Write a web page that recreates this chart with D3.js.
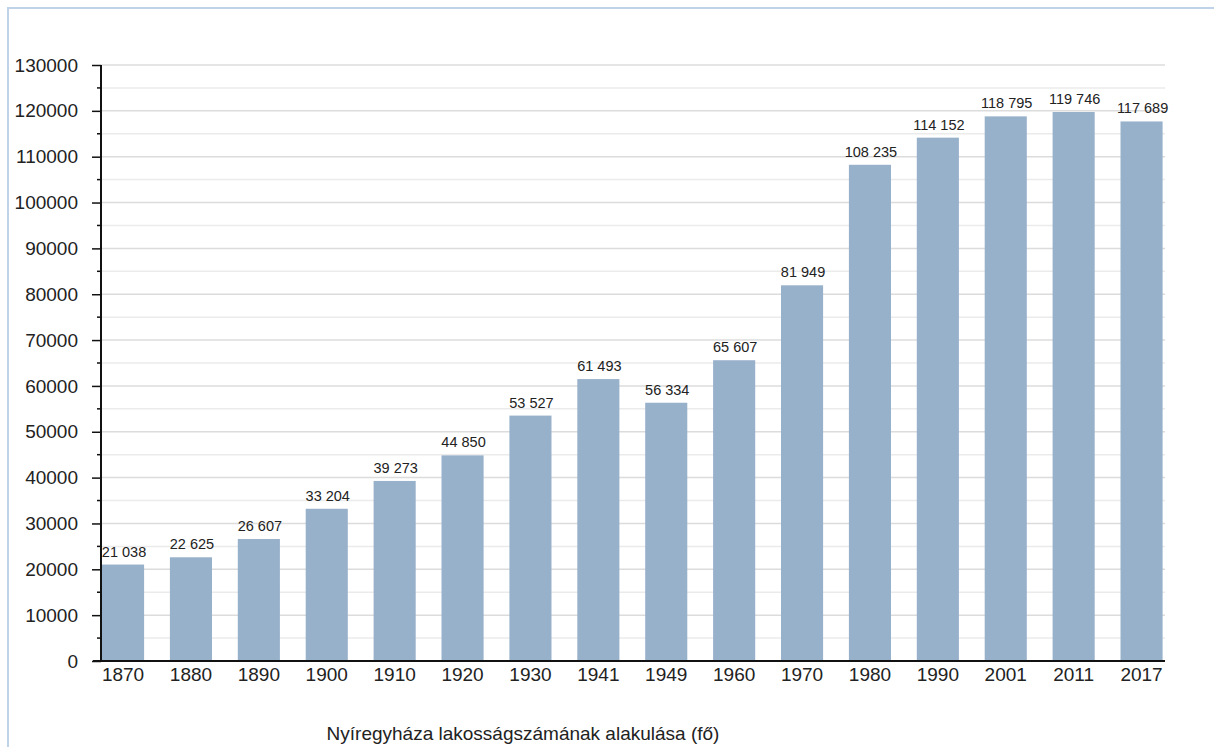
<!DOCTYPE html>
<html>
<head>
<meta charset="utf-8">
<script src="https://cdn.jsdelivr.net/npm/d3@7"></script>
<style>
  body { margin: 0; background: #fff; }
  svg { display: block; font-family: "Liberation Sans", Arial, sans-serif; }
</style>
</head>
<body>
<svg id="chart"></svg>
<script>
var years = ['1870','1880','1890','1900','1910','1920','1930','1941','1949','1960','1970','1980','1990','2001','2011','2017'];
var population = [21038, 22625, 26607, 33204, 39273, 44850, 53527, 61493, 56334, 65607, 81949, 108235, 114152, 118795, 119746, 117689];
var yTicks = [0, 10000, 20000, 30000, 40000, 50000, 60000, 70000, 80000, 90000, 100000, 110000, 120000, 130000];
var title = 'Nyíregyháza lakosságszámának alakulása (fő)';

var W = 1214, H = 747,
    plotL = 101, plotR = 1165, plotT = 65, plotB = 661,
    step = 67.9, pad = 0.38;

var svg = d3.select('#chart').attr('width', W).attr('height', H);

// frame
svg.append('path')
  .attr('d', 'M8,' + H + 'V8H' + W)
  .attr('fill', 'none')
  .attr('stroke', '#c0d2e8')
  .attr('stroke-width', 2);

var x = d3.scaleBand()
  .domain(years)
  .range([102, 102 + step * (years.length - pad)])
  .paddingInner(pad)
  .paddingOuter(0)
  .align(0);

var y = d3.scaleLinear().domain([0, 130000]).range([plotB, plotT]);

var minor = d3.range(5000, 130000, 10000);

// grid
svg.append('g').selectAll('line')
  .data(minor.concat(yTicks.slice(1)))
  .enter().append('line')
    .attr('x1', plotL).attr('x2', plotR)
    .attr('y1', function(d){ return y(d); })
    .attr('y2', function(d){ return y(d); })
    .attr('stroke', function(d){ return d % 10000 ? '#ebebeb' : '#dcdcdc'; })
    .attr('stroke-width', 1.5);

// bars
svg.append('g').selectAll('rect')
  .data(population)
  .enter().append('rect')
    .attr('x', function(d, i){ return x(years[i]); })
    .attr('width', x.bandwidth())
    .attr('y', function(d){ return y(d); })
    .attr('height', function(d){ return plotB - y(d); })
    .attr('fill', '#98b1cb');

// value labels
svg.append('g').selectAll('text')
  .data(population)
  .enter().append('text')
    .attr('x', function(d, i){ return x(years[i]) + x.bandwidth() / 2 + 1; })
    .attr('y', function(d){ return y(d) - 8; })
    .attr('text-anchor', 'middle')
    .attr('font-size', 14.5)
    .attr('fill', '#222')
    .text(function(d){ return d3.format(',')(d).replace(',', ' '); });

// y axis
var yAxis = svg.append('g')
  .attr('transform', 'translate(' + plotL + ',0)')
  .call(d3.axisLeft(y).tickValues(yTicks).tickSize(9).tickPadding(14).tickFormat(d3.format('d')));
yAxis.select('.domain').remove();
yAxis.selectAll('line').attr('stroke', '#111').attr('stroke-width', 1.5);
yAxis.selectAll('text').attr('font-size', 19).attr('fill', '#222').attr('font-family', null);

svg.append('g').selectAll('line')
  .data(minor)
  .enter().append('line')
    .attr('x1', plotL - 4).attr('x2', plotL)
    .attr('y1', function(d){ return y(d); })
    .attr('y2', function(d){ return y(d); })
    .attr('stroke', '#111').attr('stroke-width', 1.5);

svg.append('line')
  .attr('x1', plotL).attr('x2', plotL)
  .attr('y1', plotT).attr('y2', plotB)
  .attr('stroke', '#111').attr('stroke-width', 2);

// x axis
var xAxis = svg.append('g')
  .attr('transform', 'translate(0,' + plotB + ')')
  .call(d3.axisBottom(x).tickSize(0).tickPadding(7));
xAxis.select('.domain').remove();
xAxis.selectAll('text').attr('font-size', 19).attr('fill', '#222').attr('font-family', null);

svg.append('line')
  .attr('x1', plotL - 8).attr('x2', plotR)
  .attr('y1', plotB).attr('y2', plotB)
  .attr('stroke', '#111').attr('stroke-width', 2);

// title
svg.append('text')
  .attr('x', 523).attr('y', 740)
  .attr('text-anchor', 'middle')
  .attr('font-size', 19)
  .attr('fill', '#222')
  .text(title);
</script>
</body>
</html>
